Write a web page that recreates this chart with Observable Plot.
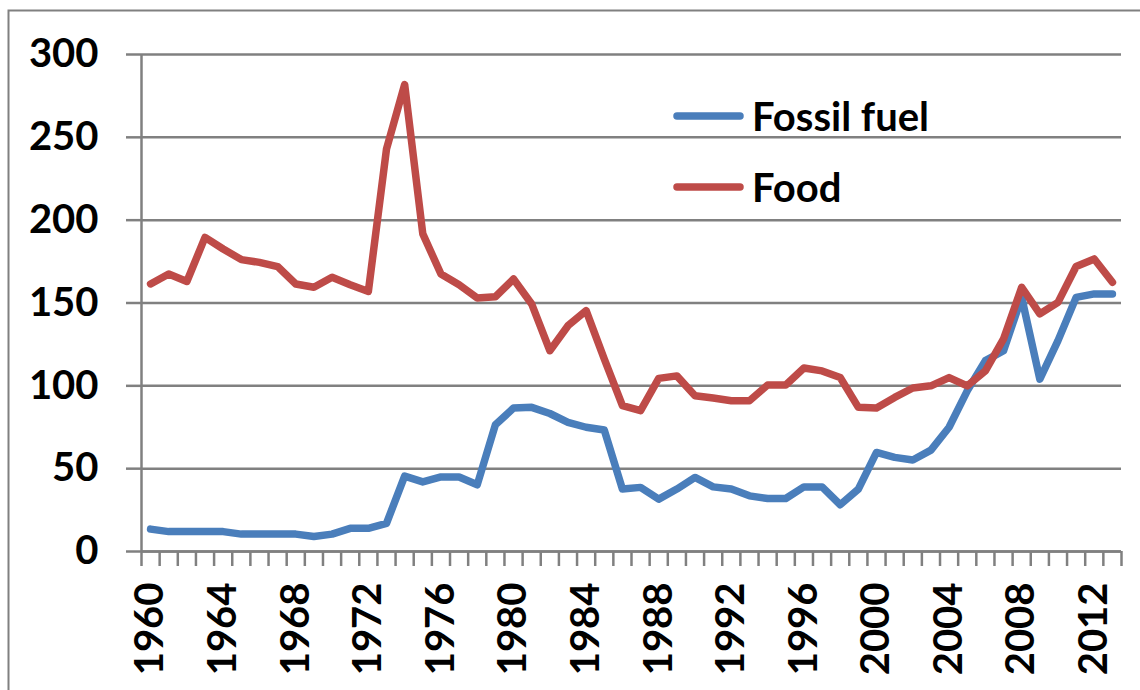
<!DOCTYPE html>
<html><head><meta charset="utf-8">
<script src="https://cdn.jsdelivr.net/npm/d3@7"></script>
<script src="https://cdn.jsdelivr.net/npm/@observablehq/plot@0.6"></script>
<style>
html,body{margin:0;padding:0;background:#fff;}
#chart{position:relative;width:1140px;height:690px;overflow:hidden;}
</style></head><body><div id="chart"></div>
<script>
const years = [1960,1961,1962,1963,1964,1965,1966,1967,1968,1969,1970,1971,1972,1973,1974,1975,1976,1977,1978,1979,
  1980,1981,1982,1983,1984,1985,1986,1987,1988,1989,1990,1991,1992,1993,1994,1995,1996,1997,1998,1999,
  2000,2001,2002,2003,2004,2005,2006,2007,2008,2009,2010,2011,2012,2013];
const fossilFuel = [13.5,12,12,12,12,10.5,10.5,10.5,10.5,9,10.5,14,14,17,45.5,42,45,45,40.3,76.5,
  86.6,87,83.3,78,75,73.3,37.7,38.7,31.6,37.7,44.7,39,37.7,33.6,32,32,39,39,28.2,37.7,
  59.8,56.8,55.2,61.2,75,97,115.2,121.2,153.4,104,127.3,153.4,155.5,155.5];
const food = [161.5,167.5,163,189.6,182.6,176.2,174.5,172,161.5,159.5,165.5,161,157,243,281.9,191.7,167.5,161,153,153.8,
  164.5,149.4,121.2,136.3,145.4,116.2,88,85,104.5,106,94,92.6,91,91,100.5,100.5,110.8,109,105,87,
  86.6,93,98.7,100,105,100,109,128.3,159.5,143.4,150.4,172,176.6,162.5];
const yTicks = [0,50,100,150,200,250,300];
const xLabelYears = [1960,1964,1968,1972,1976,1980,1984,1988,1992,1996,2000,2004,2008,2012];
const seriesNames = ["Fossil fuel","Food"];
const seriesColors = ["#4A7EBB","#BE4B48"];

const rows = years.flatMap((yr,i)=>[
  {year:yr, value:fossilFuel[i], series:"Fossil fuel"},
  {year:yr, value:food[i], series:"Food"}]);
const boundaries = years.map(y=>y-0.5).concat([years[years.length-1]+0.5]);

const gray = "#808080";
const font = "Lato, 'Open Sans', sans-serif";

const plot = Plot.plot({
  width:1140, height:690,
  marginLeft:141, marginRight:19, marginTop:54, marginBottom:139,
  style:{fontFamily:font, background:"white"},
  x:{domain:[boundaries[0], boundaries[boundaries.length-1]], axis:null, label:null},
  y:{domain:[0,300], axis:null, label:null},
  color:{domain:seriesNames, range:seriesColors},
  marks:[
    Plot.frame({stroke:gray, strokeWidth:2, insetLeft:-133, insetTop:-44, insetRight:-40, insetBottom:-160}),
    Plot.gridY(yTicks, {stroke:gray, strokeOpacity:1, strokeWidth:2.5}),
    Plot.axisY(yTicks, {label:null, tickSize:15, stroke:gray, strokeWidth:2.5, strokeOpacity:1, tickPadding:28,
      fill:"black", fontSize:40, fontWeight:700}),
    Plot.axisX(boundaries, {label:null, tickSize:15, stroke:gray, strokeWidth:2.5, strokeOpacity:1,
      tickFormat:()=>""}),
    Plot.axisX(xLabelYears, {label:null, tickSize:0, tickRotate:-90, tickPadding:31, fill:"black",
      fontSize:40, fontWeight:700, tickFormat:d=>String(d)}),
    Plot.ruleX([boundaries[0]], {stroke:gray, strokeWidth:2.5}),
    Plot.ruleY([0], {stroke:gray, strokeWidth:2.5}),
    Plot.line(rows, {x:"year", y:"value", z:"series", stroke:"series", strokeWidth:7.5,
      strokeLinejoin:"round", strokeLinecap:"round"})
  ]
});

const svg = d3.select(plot);
seriesNames.forEach((name,i)=>{
  const cy = 116 + i*71;
  svg.append("line").attr("x1",677).attr("x2",740).attr("y1",cy).attr("y2",cy)
    .attr("stroke",seriesColors[i]).attr("stroke-width",7.5).attr("stroke-linecap","round");
  svg.append("text").attr("x",752).attr("y",cy+14.5).text(name).attr("text-anchor","start")
    .attr("font-family",font).attr("font-size",40).attr("font-weight",700).attr("fill","black");
});
document.getElementById("chart").appendChild(plot);
</script></body></html>
